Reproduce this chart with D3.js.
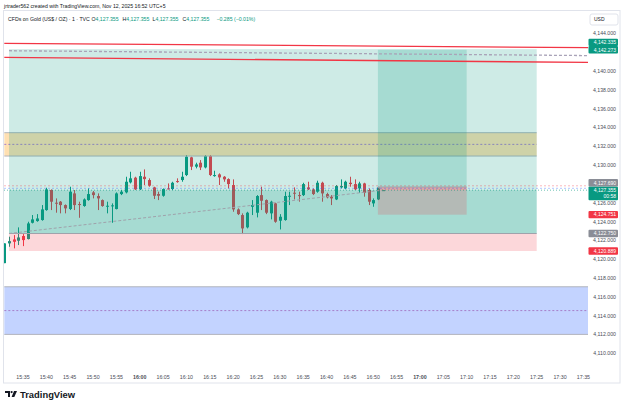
<!DOCTYPE html>
<html>
<head>
<meta charset="utf-8">
<script src="https://cdn.jsdelivr.net/npm/d3@7"></script>
<style>
  body { margin: 0; background: #fff; }
  svg { display: block; font-family: "Liberation Sans", Arial, sans-serif; }
</style>
</head>
<body>
<svg id="chart"></svg>
<script>
// 1-minute bars, first one at 15:31
const firstBar = "15:31";
const opens  = [4119.60,4121.70,4122.12,4121.98,4122.48,4122.16,4123.89,4124.07,4124.18,4125.24,
                4127.37,4126.02,4126.13,4125.77,4125.35,4127.01,4125.88,4125.67,4126.30,4127.12,
                4126.73,4126.30,4125.67,4125.67,4125.35,4126.94,4127.12,4128.18,4128.68,4127.44,
                4128.78,4128.43,4127.65,4126.94,4126.76,4127.54,4127.47,4128.32,4128.43,4128.96,
                4130.84,4129.85,4130.27,4129.77,4130.98,4128.85,4129.03,4128.78,4128.53,4127.90,
                4125.31,4124.71,4123.40,4125.59,4124.96,4126.83,4126.30,4124.89,4125.95,4124.11,
                4124.18,4126.73,4127.08,4126.83,4126.83,4127.65,4127.44,4127.19,4128.14,4126.94,
                4126.66,4126.37,4127.65,4127.54,4128.14,4128.00,4127.54,4128.07,4127.37,4125.95,
                4126.37,4127.355];
const highs  = [4121.70,4122.41,4122.58,4123.40,4122.69,4124.00,4124.71,4124.81,4125.77,4127.61,
                4127.44,4126.48,4126.20,4125.84,4127.72,4127.37,4126.13,4126.48,4127.54,4127.26,
                4127.01,4126.37,4126.13,4125.95,4127.12,4127.37,4128.78,4129.31,4128.78,4129.31,
                4129.56,4128.61,4127.72,4127.19,4127.54,4128.07,4128.25,4128.61,4129.31,4131.09,
                4130.91,4130.27,4130.55,4131.09,4131.09,4129.42,4129.14,4128.85,4128.61,4128.50,
                4125.42,4124.89,4125.06,4126.30,4126.83,4127.72,4126.37,4126.23,4126.02,4124.81,
                4127.19,4127.19,4127.65,4127.19,4128.14,4128.25,4127.54,4128.36,4128.25,4127.08,
                4126.83,4127.90,4128.50,4128.36,4128.78,4128.50,4128.25,4128.14,4127.54,4126.48,
                4127.70,4127.355];
const lows   = [4119.60,4121.34,4121.17,4121.52,4121.41,4122.12,4123.82,4124.00,4124.11,4125.17,
                4125.24,4124.96,4124.89,4124.89,4125.24,4125.24,4124.42,4125.59,4126.23,4126.48,
                4125.24,4125.59,4124.89,4123.89,4125.31,4126.83,4127.01,4128.07,4127.37,4127.37,
                4127.90,4127.72,4126.41,4126.30,4126.66,4127.44,4127.37,4128.14,4128.25,4128.85,
                4129.49,4129.67,4129.49,4129.67,4128.85,4128.78,4127.90,4128.25,4127.54,4125.06,
                4124.71,4122.69,4123.29,4124.71,4124.46,4125.24,4124.81,4124.25,4123.89,4123.18,
                4124.11,4125.77,4126.37,4126.13,4126.73,4127.37,4126.83,4127.08,4126.13,4126.48,
                4125.77,4126.30,4127.54,4127.44,4127.72,4127.37,4127.08,4126.66,4125.77,4125.59,
                4126.30,4127.355];
const closes = [4121.70,4121.94,4121.87,4122.33,4122.05,4123.82,4124.25,4124.35,4125.31,4127.44,
                4126.13,4125.95,4125.77,4125.42,4127.19,4125.77,4125.81,4126.37,4126.94,4126.83,
                4126.48,4125.67,4125.70,4125.74,4127.01,4127.19,4128.25,4128.61,4127.44,4128.85,
                4128.53,4127.83,4126.76,4126.76,4127.47,4127.47,4128.14,4128.25,4128.78,4130.91,
                4129.85,4130.09,4129.77,4130.98,4128.96,4128.96,4128.71,4128.50,4128.00,4125.31,
                4124.81,4123.29,4124.96,4125.77,4126.73,4126.23,4124.96,4126.13,4124.00,4124.53,
                4126.73,4126.76,4127.01,4126.76,4128.00,4127.44,4126.94,4128.14,4127.01,4126.59,
                4126.48,4127.79,4127.79,4128.25,4128.00,4127.44,4128.07,4127.08,4126.13,4126.30,
                4127.64,4127.355];

const timeTicks = ["15:35","15:40","15:45","15:50","15:55","16:00","16:05","16:10","16:15","16:20",
                   "16:25","16:30","16:35","16:40","16:45","16:50","16:55","17:00","17:05","17:10",
                   "17:15","17:20","17:25","17:30","17:35"];
const boldTicks = ["16:00","17:00"];
const priceTicks = [4110,4112,4114,4116,4118,4120,4122,4124,4126,4128,4130,4132,4134,4136,4138,4140,4142,4144];

const lastPrice = 4127.355;
const countdown = "00:58";

// long position tools
const positions = [
  { start: "15:32", end: "17:25", entry: 4122.750, target: 4142.335, stop: 4120.889 },
  { start: "16:51", end: "17:10", entry: 4127.690, target: 4142.273, stop: 4124.751 }
];
// rectangles with a dashed middle line
const boxes = [
  { from: "15:31", to: "17:25", top: 4133.46, bottom: 4130.98, fill: "rgba(255,152,0,0.3)" },
  { from: "15:31", to: "17:37", top: 4117.09, bottom: 4112.03, fill: "rgba(41,98,255,0.28)" }
];
// trend lines
const trendLines = [
  { t1: "15:31", p1: 4142.96, t2: "17:37", p2: 4142.49, color: "#f23645", dash: null },
  { t1: "15:31", p1: 4141.47, t2: "17:37", p2: 4140.92, color: "#f23645", dash: null },
  { t1: "15:32", p1: 4142.17, t2: "17:37", p2: 4141.65, color: "#a9a3b8", dash: "3,2" }
];

const headerText = "jrtrader562 created with TradingView.com, Nov 12, 2025 16:52 UTC+5";
const symbolText = "CFDs on Gold (US$ / OZ) · 1 · TVC";
const legendItems = [["O", "4,127.355"], ["H", "4,127.355"], ["L", "4,127.355"], ["C", "4,127.355"]];
const changeText = "−0.285 (−0.01%)";

const W = 625, H = 409;
const pane = { left: 4, right: 588, top: 11, bottom: 368 };
const green = "#089981", red = "#f23645";
const toMin = s => { const [h, m] = s.split(":").map(Number); return h * 60 + m; };
const fmt = d3.format(",.3f");

const svg = d3.select("#chart").attr("width", W).attr("height", H);

const x = d3.scaleLinear().domain([toMin("15:35"), toMin("17:35")]).range([23, 583.4]);
const y = d3.scaleLinear().domain([4110, 4144]).range([353.5, 33.5]);

svg.append("defs").append("clipPath").attr("id", "paneClip")
  .append("rect")
  .attr("x", pane.left).attr("y", pane.top)
  .attr("width", pane.right - pane.left).attr("height", pane.bottom - pane.top);

// frame
svg.append("rect")
  .attr("x", 3.5).attr("y", 10.5).attr("width", 616.5).attr("height", 372.5)
  .attr("fill", "none").attr("stroke", "#e0e3eb");

const plot = svg.append("g").attr("clip-path", "url(#paneClip)");

// candles
const t0 = toMin(firstBar);
const bars = opens.map((o, i) => ({ t: t0 + i, o, h: highs[i], l: lows[i], c: closes[i] }));
const candle = plot.append("g").selectAll("g").data(bars).join("g");
candle.append("line")
  .attr("x1", d => Math.round(x(d.t)) + 0.5).attr("x2", d => Math.round(x(d.t)) + 0.5)
  .attr("y1", d => y(d.h)).attr("y2", d => y(d.l))
  .attr("stroke", d => d.c >= d.o ? green : red).attr("stroke-width", 1);
candle.append("rect")
  .attr("x", d => Math.round(x(d.t)) - 1).attr("width", 3)
  .attr("y", d => y(Math.max(d.o, d.c)))
  .attr("height", d => Math.max(1, Math.abs(y(d.o) - y(d.c))))
  .attr("fill", d => d.c >= d.o ? green : red);

// rectangles
boxes.forEach(b => {
  const x0 = x(toMin(b.from)), x1 = x(toMin(b.to));
  plot.append("rect")
    .attr("x", x0).attr("width", x1 - x0)
    .attr("y", y(b.top)).attr("height", y(b.bottom) - y(b.top))
    .attr("fill", b.fill);
  [b.top, b.bottom].forEach(p => plot.append("line")
    .attr("x1", x0).attr("x2", x1).attr("y1", y(p)).attr("y2", y(p))
    .attr("stroke", "#b2b5be").attr("stroke-width", 1));
  const mid = (b.top + b.bottom) / 2;
  plot.append("line")
    .attr("x1", x0).attr("x2", x1).attr("y1", y(mid)).attr("y2", y(mid))
    .attr("stroke", "#a77fc9").attr("stroke-width", 1).attr("stroke-dasharray", "2,2");
});

// position tools
const lastT = t0 + bars.length - 1;
positions.forEach(p => {
  const x0 = x(toMin(p.start)), x1 = x(toMin(p.end));
  plot.append("rect").attr("x", x0).attr("width", x1 - x0)
    .attr("y", y(p.target)).attr("height", y(p.entry) - y(p.target))
    .attr("fill", "rgba(8,153,129,0.2)");
  plot.append("rect").attr("x", x0).attr("width", x1 - x0)
    .attr("y", y(p.entry)).attr("height", y(p.stop) - y(p.entry))
    .attr("fill", "rgba(242,54,69,0.2)");
  // open P&L shade from entry to last price
  const up = lastPrice >= p.entry;
  plot.append("rect").attr("x", x0).attr("width", x1 - x0)
    .attr("y", y(Math.max(lastPrice, p.entry)))
    .attr("height", Math.abs(y(lastPrice) - y(p.entry)))
    .attr("fill", up ? "rgba(8,153,129,0.2)" : "rgba(242,54,69,0.25)");
  plot.append("line")
    .attr("x1", x0).attr("x2", x1).attr("y1", y(p.entry)).attr("y2", y(p.entry))
    .attr("stroke", "#9fa2ab").attr("stroke-width", 1);
  plot.append("line")
    .attr("x1", x0).attr("y1", y(p.entry)).attr("x2", x(lastT)).attr("y2", y(lastPrice))
    .attr("stroke", "#9fa2ab").attr("stroke-width", 1).attr("stroke-dasharray", "3,2");
});

// trend lines
trendLines.forEach(l => {
  plot.append("line")
    .attr("x1", x(toMin(l.t1))).attr("y1", y(l.p1))
    .attr("x2", x(toMin(l.t2))).attr("y2", y(l.p2))
    .attr("stroke", l.color).attr("stroke-width", 1.3)
    .attr("stroke-dasharray", l.dash);
});

// price lines across the pane
plot.append("line")
  .attr("x1", pane.left).attr("x2", pane.right)
  .attr("y1", y(4127.82)).attr("y2", y(4127.82))
  .attr("stroke", "rgba(242,54,69,0.35)").attr("stroke-dasharray", "2,2");
plot.append("line")
  .attr("x1", pane.left).attr("x2", pane.right)
  .attr("y1", y(4127.55)).attr("y2", y(4127.55))
  .attr("stroke", "rgba(41,98,255,0.35)").attr("stroke-dasharray", "2,2");
plot.append("line")
  .attr("x1", pane.left).attr("x2", pane.right)
  .attr("y1", y(lastPrice)).attr("y2", y(lastPrice))
  .attr("stroke", green).attr("stroke-opacity", 0.6).attr("stroke-dasharray", "1,2");

// axis labels, pushed upwards when they collide
const axisLabels = [
  { price: 4120.889, color: red }, { price: 4122.750, color: "#8a8d96" },
  { price: 4124.751, color: red }, { price: lastPrice, color: green, current: true },
  { price: 4127.690, color: "#8a8d96" }, { price: 4142.273, color: green },
  { price: 4142.335, color: green }
];
let prevTop = Infinity;
axisLabels.forEach(l => {
  let cy = y(l.price);
  l.up = 3.7; l.down = l.current ? 10 : 3.7;
  if (cy + l.down > prevTop) cy = prevTop - l.down;
  prevTop = cy - l.up;
  l.cy = cy;
});

// price axis ticks, skipping the ones hidden by a label
const visibleTicks = priceTicks.filter(p => {
  const ty = y(p);
  return !axisLabels.some(l => ty > l.cy - l.up - 2 && ty < l.cy + l.down + 2);
});
svg.append("g").selectAll("text").data(visibleTicks).join("text")
  .attr("x", 616).attr("y", d => y(d)).attr("dy", "0.35em")
  .attr("text-anchor", "end").attr("font-size", 5.2).attr("fill", "#4a4d57")
  .text(d => fmt(d));

svg.append("rect").attr("x", 590).attr("y", 14).attr("width", 28).attr("height", 11).attr("rx", 2)
  .attr("fill", "#fff").attr("stroke", "#e0e3eb");
svg.append("text").attr("x", 594).attr("y", 21.3).attr("font-size", 5).attr("fill", "#131722").text("USD");

axisLabels.forEach(l => {
  svg.append("rect").attr("x", 588.5).attr("y", l.cy - l.up)
    .attr("width", 29.5).attr("height", l.up + l.down).attr("rx", 1)
    .attr("fill", l.color);
  svg.append("text").attr("x", 616).attr("y", l.cy).attr("dy", "0.35em")
    .attr("text-anchor", "end").attr("font-size", 5).attr("fill", "#fff").text(fmt(l.price));
  if (l.current) {
    svg.append("text").attr("x", 616).attr("y", l.cy + 6.2).attr("dy", "0.35em")
      .attr("text-anchor", "end").attr("font-size", 5).attr("fill", "#fff").text(countdown);
  }
});

// time axis
svg.append("g").selectAll("text").data(timeTicks).join("text")
  .attr("x", d => x(toMin(d))).attr("y", 379)
  .attr("text-anchor", "middle").attr("font-size", 5.3)
  .attr("font-weight", d => boldTicks.includes(d) ? "bold" : "normal")
  .attr("fill", "#4a4d57")
  .text(d => d);

// header and legend
svg.append("text").attr("x", 4).attr("y", 8).attr("font-size", 5.2).attr("fill", "#131722").text(headerText);
const legend = svg.append("text").attr("y", 20.5).attr("font-size", 5.2).attr("fill", "#131722");
legend.append("tspan").attr("x", 8).text(symbolText);
const legendX = [91.5, 122.5, 152.5, 182.5];
legendItems.forEach(([k, v], i) => {
  legend.append("tspan").attr("x", legendX[i]).text(k);
  legend.append("tspan").attr("fill", green).text(v);
});
legend.append("tspan").attr("x", 216.5).attr("fill", green).text(changeText);

// TradingView logo
const logo = svg.append("g").attr("transform", "translate(5,391)").attr("fill", "#131722");
logo.append("path").attr("d", "M0,0 H5 V6 H3 V2 H0 Z");
logo.append("circle").attr("cx", 6.6).attr("cy", 1.1).attr("r", 1.1);
logo.append("path").attr("d", "M9,0 H12 L9.3,6 H6.6 Z");
svg.append("text").attr("x", 20).attr("y", 397.8).attr("font-size", 9.4).attr("font-weight", 600)
  .attr("fill", "#131722").text("TradingView");
</script>
</body>
</html>
